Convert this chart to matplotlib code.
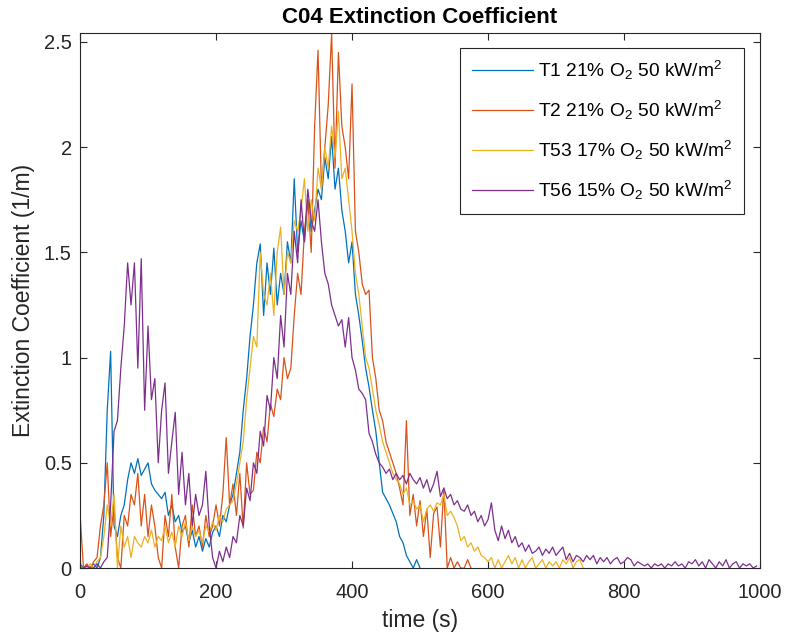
import matplotlib
matplotlib.use("Agg")
import matplotlib.pyplot as plt
import numpy as np

plt.rcParams['font.family'] = ['Liberation Sans', 'DejaVu Sans']
plt.rcParams['mathtext.fontset'] = 'custom'
plt.rcParams['mathtext.rm'] = 'Liberation Sans'
plt.rcParams['mathtext.it'] = 'Liberation Sans'

# sampled every 5 s, starting at t = 0
t1 = [0.02, 0.0, 0.01, 0.0, 0.02, 0.0, 0.05, 0.25, 0.75, 1.03,
      0.2, 0.15, 0.25, 0.3, 0.42, 0.5, 0.45, 0.52, 0.44, 0.47,
      0.5, 0.4, 0.37, 0.35, 0.33, 0.36, 0.25, 0.3, 0.22, 0.25,
      0.17, 0.2, 0.12, 0.18, 0.1, 0.15, 0.08, 0.14, 0.1, 0.17,
      0.2, 0.15, 0.25, 0.22, 0.3, 0.35, 0.45, 0.55, 0.75, 0.9,
      1.1, 1.25, 1.45, 1.54, 1.2, 1.45, 1.3, 1.52, 1.25, 1.4,
      1.3, 1.55, 1.45, 1.85, 1.5, 1.65, 1.55, 1.75, 1.6, 1.7,
      1.8, 1.75, 1.95, 1.85, 2.05, 1.8, 1.9, 1.7, 1.6, 1.45,
      1.55, 1.3, 1.2, 1.08, 0.95, 0.86, 0.75, 0.65, 0.5, 0.36,
      0.33, 0.3, 0.26, 0.22, 0.15, 0.12, 0.06, 0.03, 0.0, 0.04, 0.0]

t2 = [0.26, 0.0, 0.02, 0.0, 0.03, 0.05, 0.2, 0.3, 0.5, 0.15,
      0.3, 0.05, 0.0, 0.25, 0.2, 0.35, 0.3, 0.45, 0.2, 0.35,
      0.15, 0.3, 0.2, 0.05, 0.0, 0.25, 0.15, 0.35, 0.1, 0.0,
      0.2, 0.25, 0.1, 0.3, 0.15, 0.2, 0.1, 0.25, 0.15, 0.2,
      0.3, 0.2, 0.35, 0.62, 0.3, 0.4, 0.25, 0.45, 0.19, 0.5,
      0.35, 0.37, 0.55, 0.5, 0.67, 0.6, 0.78, 0.72, 0.85, 0.8,
      1.0, 0.9, 0.95, 1.2, 1.4, 1.3, 1.6, 1.75, 1.5, 2.1,
      2.46, 1.8, 2.0, 2.2, 2.54, 1.9, 2.45, 2.1, 2.0, 1.85,
      2.3, 1.6, 1.5, 1.35, 1.3, 1.32, 1.0, 0.9, 0.75, 0.7,
      0.6, 0.55, 0.5, 0.45, 0.38, 0.3, 0.7, 0.25, 0.35, 0.2,
      0.32, 0.15, 0.28, 0.05, 0.26, 0.29, 0.1, 0.38, 0.0, 0.05,
      0.0, 0.03, 0.0, 0.0, 0.04, 0.0]

t53 = [0.0, 0.0, 0.0, 0.02, 0.0, 0.03, 0.05, 0.15, 0.3, 0.2,
       0.35, 0.0, 0.2, 0.1, 0.15, 0.05, 0.15, 0.12, 0.1, 0.15,
       0.12, 0.18, 0.1, 0.15, 0.13, 0.2, 0.12, 0.17, 0.1, 0.2,
       0.15, 0.22, 0.13, 0.2, 0.15, 0.18, 0.12, 0.2, 0.17, 0.22,
       0.18, 0.25, 0.22, 0.28, 0.3, 0.32, 0.4, 0.5, 0.6, 0.8,
       0.95, 1.1, 1.05, 1.5, 1.3, 1.25, 1.4, 1.2, 1.5, 1.62,
       1.3, 1.5, 1.45, 1.65, 1.6, 1.7, 1.85, 1.6, 1.75, 1.65,
       1.9, 1.8, 2.0, 1.9, 2.1, 1.95, 2.17, 1.85, 1.9, 1.75,
       1.6, 1.4, 1.3, 1.15, 1.0, 0.95, 0.85, 0.75, 0.68, 0.6,
       0.55, 0.5, 0.45, 0.42, 0.4, 0.35, 0.38, 0.3, 0.32, 0.28,
       0.3, 0.22, 0.28, 0.3, 0.27, 0.31, 0.3, 0.35, 0.25, 0.27,
       0.24, 0.2, 0.13, 0.15, 0.1, 0.12, 0.08, 0.1, 0.06, 0.05,
       0.03, 0.05, 0.0, 0.04, 0.0, 0.03, 0.06, 0.02, 0.05, 0.0,
       0.04, 0.0, 0.03, 0.05, 0.0, 0.02, 0.04, 0.0, 0.03, 0.01,
       0.03, 0.0, 0.04, 0.02, 0.05, 0.0, 0.03, 0.04, 0.0]

t56 = [0.0, 0.0, 0.01, 0.0, 0.0, 0.02, 0.0, 0.03, 0.05, 0.3,
       0.65, 0.7, 0.95, 1.15, 1.45, 1.25, 1.45, 0.95, 1.47, 0.75,
       1.15, 0.8, 0.9, 0.5, 0.75, 0.88, 0.45, 0.6, 0.74, 0.35,
       0.55, 0.3, 0.45, 0.2, 0.35, 0.25, 0.3, 0.46, 0.2, 0.05,
       0.0, 0.08, 0.03, 0.1, 0.05, 0.15, 0.12, 0.25, 0.2, 0.38,
       0.32, 0.5, 0.45, 0.65, 0.58, 0.82, 0.75, 1.0, 0.9, 1.2,
       1.05, 1.4, 1.3, 1.6, 1.45, 1.75, 1.55, 1.8, 1.65, 1.6,
       1.75, 1.55, 1.4, 1.35, 1.25, 1.2, 1.15, 1.18, 1.05, 1.19,
       1.0, 0.94, 0.85, 0.83, 0.8, 0.64, 0.6, 0.54, 0.5, 0.48,
       0.45, 0.47, 0.42, 0.45, 0.42, 0.44, 0.4, 0.45, 0.42, 0.4,
       0.43, 0.38, 0.42, 0.36, 0.4, 0.46, 0.34, 0.38, 0.33, 0.35,
       0.3, 0.32, 0.28, 0.27, 0.3, 0.25, 0.27, 0.22, 0.25, 0.2,
       0.23, 0.31, 0.18, 0.13, 0.2, 0.14, 0.18, 0.12, 0.15, 0.1,
       0.12, 0.08, 0.11, 0.07, 0.08, 0.1, 0.06, 0.09, 0.07, 0.1,
       0.06, 0.08, 0.1, 0.04, 0.07, 0.03, 0.06, 0.05, 0.03, 0.06,
       0.04, 0.06, 0.02, 0.05, 0.03, 0.05, 0.02, 0.04, 0.05, 0.02,
       0.03, 0.05, 0.04, 0.01, 0.03, 0.02, 0.01, 0.02, 0.0, 0.02,
       0.01, 0.02, 0.0, 0.02, 0.01, 0.03, 0.01, 0.02, 0.0, 0.03,
       0.02, 0.04, 0.01, 0.03, 0.0, 0.04, 0.02, 0.0, 0.03, 0.01,
       0.04, 0.0, 0.02, 0.03, 0.0, 0.02, 0.01, 0.02, 0.0, 0.01]

series = [t1, t2, t53, t56]
labels = ['T1 21% O$_2$ 50 kW/m$^2$', 'T2 21% O$_2$ 50 kW/m$^2$',
          'T53 17% O$_2$ 50 kW/m$^2$', 'T56 15% O$_2$ 50 kW/m$^2$']
colors = ['#0072BD', '#D95319', '#EDB120', '#7E2F8E']
dt = 5

fig = plt.figure(figsize=(7.87, 6.39), dpi=100)
ax = fig.add_axes([0.1017, 0.111, 0.864, 0.838])

for y, lab, c in zip(series, labels, colors):
    t = np.arange(len(y)) * dt
    ax.plot(t, y, color=c, linewidth=0.9, label=lab)

ax.set_xlim(0, 1000)
ax.set_ylim(0, 2.544)
ax.set_xticks([0, 200, 400, 600, 800, 1000])
ax.set_yticks([0, 0.5, 1, 1.5, 2, 2.5])
ax.set_yticklabels(['0', '0.5', '1', '1.5', '2', '2.5'])
ax.tick_params(direction='in', top=True, right=True, length=5, width=0.8,
               labelsize=14.5, colors='#262626')
ax.tick_params(axis='x', pad=11)
ax.tick_params(axis='y', pad=6)
for s in ax.spines.values():
    s.set_color('#262626')
    s.set_linewidth(0.8)

ax.set_xlabel('time (s)', fontsize=16.5, color='#262626', labelpad=5)
ax.set_ylabel('Extinction Coefficient (1/m)', fontsize=16.5, color='#262626',
              labelpad=6)
ax.set_title('C04 Extinction Coefficient', fontsize=16, fontweight='bold', pad=7)

leg = ax.legend(loc='upper right', bbox_to_anchor=(0.976, 0.972), fontsize=13.8,
                handlelength=3.2, labelspacing=0.88, borderpad=0.6,
                handletextpad=0.25, borderaxespad=0.0, fancybox=False,
                framealpha=1, edgecolor='#262626')
leg.get_frame().set_linewidth(0.8)

fig.savefig('out.png', dpi=100)
